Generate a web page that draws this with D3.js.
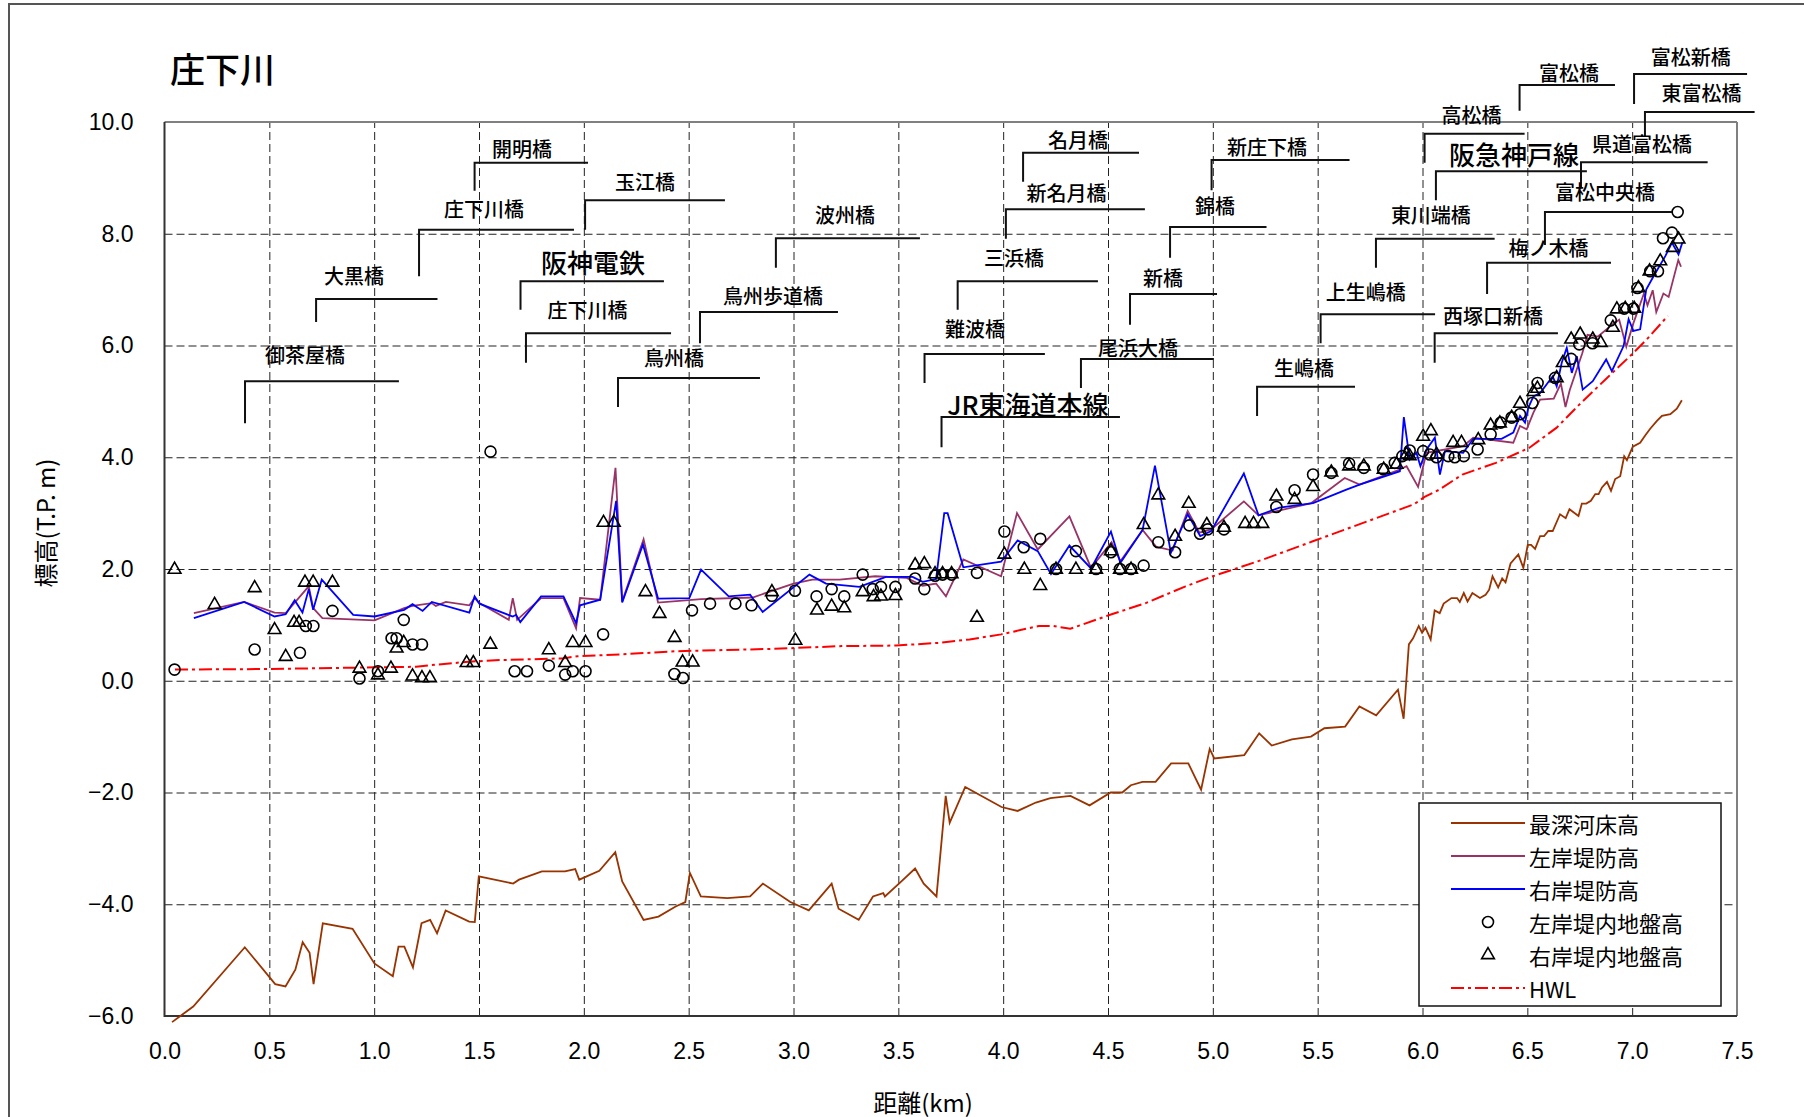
<!DOCTYPE html>
<html>
<head>
<meta charset="utf-8">
<script src="https://cdnjs.cloudflare.com/ajax/libs/d3/7.8.5/d3.min.js"></script>
<style>
  body { margin: 0; background: #fff; }
  svg text { font-family: "Noto Sans CJK JP", "Noto Sans", sans-serif; fill: #000; }
  .tick text { font-family: "Liberation Sans", Arial, sans-serif; font-size: 23px; }
</style>
</head>
<body>
<svg id="chart" width="1804" height="1117"></svg>
<script>
// 軸目盛
const xTicks = [0, 0.5, 1, 1.5, 2, 2.5, 3, 3.5, 4, 4.5, 5, 5.5, 6, 6.5, 7, 7.5];
const yTicks = [-6, -4, -2, 0, 2, 4, 6, 8, 10];

// 最深河床高 [km, T.P.m]
const riverbed = [[0.036,-6.11],[0.137,-5.83],[0.383,-4.77],[0.528,-5.43],[0.577,-5.47],[0.624,-5.17],[0.659,-4.68],[0.692,-4.87],[0.711,-5.43],[0.755,-4.34],[0.897,-4.44],[1.001,-5.06],[1.089,-5.29],[1.116,-4.76],[1.144,-4.76],[1.185,-5.13],[1.226,-4.34],[1.267,-4.28],[1.300,-4.52],[1.341,-4.11],[1.453,-4.31],[1.480,-4.32],[1.499,-3.50],[1.663,-3.63],[1.691,-3.56],[1.800,-3.41],[1.910,-3.41],[1.959,-3.37],[1.978,-3.56],[2.074,-3.40],[2.150,-3.07],[2.183,-3.59],[2.285,-4.28],[2.356,-4.22],[2.438,-4.04],[2.484,-3.96],[2.506,-3.44],[2.558,-3.86],[2.684,-3.89],[2.793,-3.86],[2.854,-3.63],[2.985,-3.96],[3.073,-4.11],[3.182,-3.63],[3.215,-4.08],[3.311,-4.28],[3.379,-3.86],[3.428,-3.80],[3.436,-3.86],[3.512,-3.60],[3.580,-3.36],[3.621,-3.63],[3.682,-3.86],[3.726,-2.06],[3.745,-2.54],[3.819,-1.90],[3.992,-2.26],[4.069,-2.33],[4.156,-2.18],[4.225,-2.10],[4.321,-2.06],[4.412,-2.23],[4.513,-2.00],[4.568,-2.00],[4.609,-1.87],[4.664,-1.81],[4.727,-1.81],[4.801,-1.48],[4.883,-1.48],[4.944,-1.95],[4.985,-1.22],[5.007,-1.39],[5.150,-1.33],[5.221,-0.94],[5.281,-1.16],[5.377,-1.05],[5.468,-1.00],[5.532,-0.85],[5.631,-0.82],[5.699,-0.46],[5.779,-0.62],[5.883,-0.16],[5.910,-0.68],[5.935,0.65],[5.955,0.76],[5.982,0.98],[5.998,0.86],[6.014,0.95],[6.039,0.74],[6.058,1.26],[6.082,1.21],[6.101,1.38],[6.138,1.48],[6.165,1.48],[6.178,1.41],[6.197,1.57],[6.215,1.42],[6.238,1.57],[6.274,1.48],[6.301,1.54],[6.318,1.63],[6.334,1.87],[6.361,1.67],[6.380,1.83],[6.396,1.76],[6.420,2.10],[6.457,2.26],[6.481,2.02],[6.502,2.43],[6.518,2.43],[6.537,2.36],[6.561,2.59],[6.580,2.59],[6.600,2.68],[6.621,2.68],[6.656,2.98],[6.683,2.91],[6.701,3.07],[6.744,2.95],[6.760,3.17],[6.781,3.17],[6.803,3.22],[6.824,3.34],[6.840,3.34],[6.856,3.46],[6.880,3.56],[6.899,3.40],[6.919,3.61],[6.943,3.66],[6.962,4.02],[6.975,3.95],[7.003,4.19],[7.038,4.26],[7.062,4.39],[7.086,4.51],[7.118,4.65],[7.142,4.74],[7.182,4.77],[7.213,4.87],[7.237,5.02]];

// 左岸堤防高
const leftLevee = [[0.14,1.21],[0.38,1.41],[0.525,1.22],[0.578,1.21],[0.688,1.69],[0.709,1.30],[0.753,1.12],[1.002,1.08],[1.143,1.30],[1.183,1.34],[1.275,1.39],[1.294,1.34],[1.342,1.41],[1.454,1.35],[1.479,1.48],[1.502,1.39],[1.642,1.09],[1.661,1.48],[1.682,1.09],[1.796,1.48],[1.903,1.48],[1.963,0.94],[1.982,1.48],[2.078,1.45],[2.151,3.81],[2.183,1.42],[2.285,2.53],[2.354,1.40],[2.559,1.46],[2.805,1.49],[3.0,1.74],[3.09,1.81],[3.22,1.81],[3.39,1.87],[3.54,1.84],[3.616,1.70],[3.68,1.74],[3.727,1.51],[3.810,2.17],[3.990,1.87],[4.066,3.00],[4.165,2.35],[4.316,2.94],[4.419,2.02],[4.517,2.48],[4.559,2.14],[4.665,2.70],[4.729,2.40],[4.808,2.33],[4.880,3.04],[4.936,2.65],[4.992,2.71],[5.148,3.21],[5.218,2.96],[5.470,3.18],[5.629,3.63],[5.70,3.51],[5.892,3.78],[5.924,3.84],[5.979,3.47],[6.019,4.08],[6.194,4.20],[6.242,4.35],[6.433,4.26],[6.465,4.56],[6.497,4.50],[6.529,4.80],[6.561,5.03],[6.626,5.05],[6.660,5.32],[6.682,4.90],[6.702,5.20],[6.762,5.86],[6.787,6.19],[6.837,6.16],[6.913,6.40],[6.938,6.46],[6.972,5.98],[7.006,6.40],[7.056,6.93],[7.073,6.72],[7.098,6.99],[7.115,6.60],[7.149,6.93],[7.174,6.87],[7.220,7.53],[7.233,7.41]];

// 右岸堤防高
const rightLevee = [[0.14,1.12],[0.38,1.41],[0.525,1.15],[0.578,1.19],[0.621,1.44],[0.658,1.22],[0.688,1.64],[0.709,1.27],[0.750,1.81],[0.900,1.18],[1.002,1.15],[1.143,1.27],[1.183,1.37],[1.231,1.25],[1.275,1.41],[1.454,1.22],[1.479,1.51],[1.502,1.38],[1.661,1.15],[1.677,1.18],[1.697,1.05],[1.796,1.51],[1.903,1.51],[1.963,1.03],[1.982,1.35],[2.078,1.45],[2.154,3.22],[2.183,1.40],[2.282,2.44],[2.354,1.47],[2.503,1.48],[2.559,1.99],[2.691,1.51],[2.793,1.54],[2.853,1.23],[3.076,1.90],[3.155,1.74],[3.314,1.68],[3.441,1.86],[3.568,1.86],[3.616,1.77],[3.680,1.82],[3.719,3.00],[3.735,3.00],[3.810,2.03],[3.990,2.13],[4.069,2.51],[4.165,2.32],[4.228,1.91],[4.316,2.42],[4.419,2.01],[4.514,2.67],[4.559,2.11],[4.665,2.70],[4.724,3.85],[4.800,2.29],[4.880,2.98],[4.940,2.59],[4.992,2.68],[5.148,3.71],[5.218,2.96],[5.318,3.10],[5.478,3.18],[5.637,3.42],[5.70,3.51],[5.892,3.75],[5.911,4.72],[5.939,3.96],[5.971,4.08],[5.990,3.84],[6.019,4.14],[6.059,4.35],[6.083,3.69],[6.107,4.11],[6.194,4.08],[6.242,4.33],[6.377,4.33],[6.433,4.44],[6.465,4.74],[6.489,4.62],[6.505,4.89],[6.529,5.09],[6.561,5.15],[6.621,5.45],[6.640,5.27],[6.664,5.69],[6.688,5.96],[6.712,5.51],[6.736,5.81],[6.764,5.21],[6.812,5.36],[6.876,5.75],[6.903,5.54],[6.959,5.99],[6.983,6.47],[7.006,6.26],[7.038,6.29],[7.067,7.00],[7.102,7.24],[7.158,7.60],[7.190,7.84],[7.221,7.63],[7.240,7.85]];

// 左岸堤内地盤高
const leftGround = [[0.048,0.20],[0.430,0.56],[0.646,0.50],[0.674,0.98],[0.710,0.98],[0.801,1.25],[0.930,0.04],[1.018,0.17],[1.083,0.76],[1.107,0.76],[1.141,1.09],[1.183,0.65],[1.228,0.65],[1.555,4.10],[1.670,0.17],[1.729,0.17],[1.833,0.27],[1.911,0.11],[1.947,0.17],[2.008,0.17],[2.092,0.83],[2.432,0.12],[2.473,0.05],[2.516,1.26],[2.602,1.38],[2.723,1.38],[2.800,1.35],[2.897,1.52],[3.007,1.61],[3.110,1.51],[3.182,1.64],[3.242,1.51],[3.330,1.90],[3.378,1.64],[3.417,1.68],[3.486,1.68],[3.580,1.83],[3.624,1.64],[3.675,1.88],[3.711,1.90],[3.754,1.90],[3.875,1.93],[4.006,2.67],[4.098,2.39],[4.177,2.54],[4.252,2.00],[4.347,2.32],[4.443,2.00],[4.514,2.30],[4.557,2.00],[4.610,2.00],[4.670,2.06],[4.740,2.48],[4.820,2.30],[4.888,2.78],[4.939,2.63],[4.976,2.71],[5.053,2.71],[5.303,3.11],[5.390,3.41],[5.478,3.69],[5.565,3.72],[5.650,3.89],[5.720,3.81],[5.812,3.79],[5.868,3.90],[5.904,4.02],[5.939,4.12],[6.003,4.11],[6.035,4.05],[6.067,4.00],[6.123,4.02],[6.154,4.00],[6.197,4.02],[6.263,4.14],[6.325,4.41],[6.373,4.62],[6.425,4.71],[6.465,4.77],[6.524,4.97],[6.549,5.33],[6.632,5.42],[6.709,5.76],[6.748,6.02],[6.811,6.04],[6.898,6.45],[6.962,6.66],[7.006,6.66],[7.025,7.03],[7.086,7.33],[7.123,7.33],[7.147,7.92],[7.190,8.02],[7.217,8.39]];

// 右岸堤内地盤高
const rightGround = [[0.048,1.99],[0.239,1.36],[0.430,1.66],[0.525,0.91],[0.578,0.43],[0.618,1.04],[0.642,1.04],[0.670,1.76],[0.709,1.76],[0.801,1.76],[0.930,0.22],[1.018,0.10],[1.080,0.22],[1.107,0.58],[1.141,0.68],[1.183,0.08],[1.228,0.05],[1.266,0.05],[1.441,0.32],[1.473,0.32],[1.554,0.65],[1.833,0.55],[1.911,0.32],[1.947,0.68],[2.008,0.68],[2.094,2.83],[2.143,2.83],[2.294,1.59],[2.361,1.20],[2.433,0.77],[2.471,0.33],[2.519,0.33],[2.897,1.59],[3.009,0.72],[3.112,1.26],[3.182,1.33],[3.242,1.30],[3.330,1.59],[3.382,1.50],[3.417,1.51],[3.486,1.52],[3.580,2.07],[3.624,2.09],[3.675,1.91],[3.711,1.91],[3.754,1.91],[3.875,1.13],[4.006,2.26],[4.101,1.99],[4.177,1.70],[4.252,1.99],[4.347,1.99],[4.443,1.99],[4.514,2.32],[4.557,1.99],[4.610,1.99],[4.670,2.79],[4.740,3.32],[4.820,2.58],[4.885,3.17],[4.971,2.79],[5.053,2.74],[5.154,2.81],[5.194,2.81],[5.236,2.81],[5.303,3.30],[5.390,3.24],[5.478,3.47],[5.565,3.73],[5.650,3.84],[5.720,3.84],[5.815,3.78],[5.876,3.87],[5.924,4.05],[5.939,4.02],[6.003,4.37],[6.040,4.47],[6.067,4.05],[6.146,4.26],[6.186,4.26],[6.266,4.31],[6.325,4.57],[6.369,4.61],[6.425,4.71],[6.465,4.96],[6.529,5.17],[6.548,5.23],[6.640,5.42],[6.669,5.69],[6.709,6.11],[6.752,6.20],[6.812,6.11],[6.850,6.05],[6.908,6.32],[6.927,6.65],[6.967,6.66],[7.010,6.66],[7.030,7.03],[7.083,7.33],[7.134,7.51],[7.194,7.75],[7.221,7.90]];

// HWL
const hwl = [[0.05,0.20],[0.5,0.21],[1.0,0.24],[1.2,0.25],[1.3,0.29],[1.45,0.34],[1.6,0.37],[1.9,0.40],[1.97,0.44],[2.17,0.47],[2.45,0.53],[2.9,0.57],[3.23,0.62],[3.49,0.63],[3.70,0.68],[3.84,0.74],[3.99,0.83],[4.17,0.98],[4.24,0.98],[4.32,0.93],[4.51,1.18],[4.68,1.39],[4.87,1.69],[5.0,1.87],[5.24,2.17],[5.48,2.50],[5.72,2.83],[5.96,3.16],[6.01,3.29],[6.08,3.42],[6.19,3.69],[6.35,3.90],[6.51,4.17],[6.64,4.53],[6.75,4.95],[6.88,5.42],[6.99,5.81],[7.07,6.11],[7.17,6.53]];

// 橋梁名：[名前, 引出線km, 横線標高, 縦線下端標高, 横線終点km, 文字km, 文字標高, 大きい文字]
const bridges = [
  ["開明橋", 1.479, 9.27, 8.77, 2.020, 1.705, 9.53, 0],
  ["玉江橋", 2.006, 8.60, 8.07, 2.673, 2.292, 8.93, 0],
  ["庄下川橋", 1.214, 8.07, 7.24, 1.953, 1.524, 8.46, 0],
  ["大黒橋", 0.723, 6.83, 6.42, 1.302, 0.904, 7.26, 0],
  ["阪神電鉄", 1.698, 7.15, 6.64, 2.382, 2.044, 7.50, 1],
  ["庄下川橋", 1.724, 6.22, 5.69, 2.416, 2.017, 6.64, 0],
  ["御茶屋橋", 0.384, 5.36, 4.61, 1.118, 0.670, 5.83, 0],
  ["鳥州橋", 2.163, 5.42, 4.90, 2.840, 2.430, 5.79, 0],
  ["鳥州歩道橋", 2.554, 6.60, 6.04, 3.212, 2.902, 6.90, 0],
  ["波州橋", 2.916, 7.92, 7.39, 3.603, 3.246, 8.35, 0],
  ["名月橋", 4.095, 9.45, 8.93, 4.648, 4.357, 9.68, 0],
  ["新名月橋", 4.013, 8.44, 7.91, 4.676, 4.302, 8.73, 0],
  ["三浜橋", 3.783, 7.15, 6.64, 4.452, 4.052, 7.57, 0],
  ["難波橋", 3.625, 5.85, 5.33, 4.199, 3.866, 6.31, 0],
  ["JR東海道本線", 3.706, 4.72, 4.18, 4.557, 4.118, 4.97, 1],
  ["尾浜大橋", 4.371, 5.76, 5.24, 5.005, 4.643, 5.97, 0],
  ["新橋", 4.605, 6.92, 6.37, 5.020, 4.762, 7.21, 0],
  ["錦橋", 4.796, 8.12, 7.57, 5.256, 5.010, 8.51, 0],
  ["新庄下橋", 4.994, 9.32, 8.78, 5.652, 5.258, 9.57, 0],
  ["生嶋橋", 5.211, 5.26, 4.74, 5.678, 5.435, 5.60, 0],
  ["上生嶋橋", 5.514, 6.56, 6.04, 6.060, 5.729, 6.96, 0],
  ["東川端橋", 5.778, 7.91, 7.39, 6.344, 6.040, 8.35, 0],
  ["西塚口新橋", 6.058, 6.22, 5.69, 6.646, 6.336, 6.53, 0],
  ["梅ノ木橋", 6.308, 7.48, 6.92, 6.899, 6.601, 7.76, 0],
  ["富松中央橋", 6.584, 8.39, 7.80, 7.190, 6.870, 8.75, 0],
  ["阪急神戸線", 6.064, 9.12, 8.60, 6.784, 6.436, 9.43, 1],
  ["高松橋", 6.010, 9.79, 9.27, 6.487, 6.234, 10.13, 0],
  ["県道富松橋", 6.756, 9.28, 8.82, 7.360, 7.047, 9.61, 0],
  ["富松橋", 6.463, 10.66, 10.20, 6.918, 6.699, 10.88, 0],
  ["富松新橋", 7.009, 10.86, 10.32, 7.548, 7.280, 11.18, 0],
  ["東富松橋", 7.061, 10.18, 9.73, 7.584, 7.331, 10.52, 0]
];

const legendNames = ["最深河床高", "左岸堤防高", "右岸堤防高", "左岸堤内地盤高", "右岸堤内地盤高", "HWL"];

var svg = d3.select("#chart");
var plot = {left: 164.5, top: 122, right: 1737, bottom: 1016};

var x = d3.scaleLinear().domain([0, 7.5]).range([plot.left, plot.right]);
var y = d3.scaleLinear().domain([-6, 10]).range([plot.bottom, plot.top]);

// 外枠
svg.append("rect")
  .attr("x", 9).attr("y", 4).attr("width", 1830).attr("height", 1140)
  .attr("fill", "none").attr("stroke", "#555").attr("stroke-width", 2);

// タイトル
svg.append("text")
  .attr("x", 170).attr("y", 67)
  .attr("dominant-baseline", "central")
  .attr("font-size", 35)
  .attr("font-weight", 500)
  .text("庄下川");

// グリッド付きの軸
var fmt = d3.format(".1f");
var yAxis = svg.append("g")
  .attr("transform", "translate(" + plot.left + ",0)")
  .call(d3.axisLeft(y).tickValues(yTicks).tickFormat(fmt)
    .tickSize(-(plot.right - plot.left)).tickPadding(31));
var xAxis = svg.append("g")
  .attr("transform", "translate(0," + plot.bottom + ")")
  .call(d3.axisBottom(x).tickValues(xTicks).tickFormat(fmt)
    .tickSize(-(plot.bottom - plot.top)).tickPadding(27));

[yAxis, xAxis].forEach(function(g){
  g.select(".domain").remove();
  g.selectAll(".tick line")
    .attr("stroke", "#222")
    .attr("stroke-width", 1)
    .attr("stroke-dasharray", "8,4");
  g.selectAll(".tick text").attr("fill", "#000");
});
// 両端の目盛線は枠と重なるので消す
yAxis.selectAll(".tick line").filter(function(d){ return d == -6 || d == 10; }).remove();
xAxis.selectAll(".tick line").filter(function(d){ return d == 0 || d == 7.5; }).remove();

// プロット枠
svg.append("line").attr("x1", plot.left).attr("x2", plot.right).attr("y1", plot.top).attr("y2", plot.top)
  .attr("stroke", "#808080").attr("stroke-width", 2);
svg.append("line").attr("x1", plot.right).attr("x2", plot.right).attr("y1", plot.top).attr("y2", plot.bottom)
  .attr("stroke", "#808080").attr("stroke-width", 2);
svg.append("line").attr("x1", plot.left).attr("x2", plot.left).attr("y1", plot.top).attr("y2", plot.bottom + 1)
  .attr("stroke", "#333").attr("stroke-width", 2);
svg.append("line").attr("x1", plot.left).attr("x2", plot.right).attr("y1", plot.bottom).attr("y2", plot.bottom)
  .attr("stroke", "#333").attr("stroke-width", 2);

// 軸タイトル
svg.append("text")
  .attr("transform", "translate(44,523) rotate(-90)")
  .attr("text-anchor", "middle").attr("dominant-baseline", "central")
  .attr("font-size", 24)
  .text("標高(T.P. m)");
svg.append("text")
  .attr("x", 923).attr("y", 1101)
  .attr("text-anchor", "middle").attr("dominant-baseline", "central")
  .attr("font-size", 24)
  .text("距離(km)");

// 線
var line = d3.line().x(function(d){ return x(d[0]); }).y(function(d){ return y(d[1]); });

svg.append("path").datum(hwl).attr("d", line)
  .attr("fill", "none").attr("stroke", "#ff0000").attr("stroke-width", 2)
  .attr("stroke-dasharray", "13,4,3,4");
svg.append("path").datum(riverbed).attr("d", line)
  .attr("fill", "none").attr("stroke", "#993300").attr("stroke-width", 1.8);
svg.append("path").datum(leftLevee).attr("d", line)
  .attr("fill", "none").attr("stroke", "#993366").attr("stroke-width", 1.8);
svg.append("path").datum(rightLevee).attr("d", line)
  .attr("fill", "none").attr("stroke", "#0000ff").attr("stroke-width", 1.8);

// 地盤高マーカー
var tri = d3.symbol().type(d3.symbolTriangle).size(70);
svg.append("g").selectAll("circle")
  .data(leftGround)
  .enter()
  .append("circle")
  .attr("cx", function(d){ return x(d[0]); })
  .attr("cy", function(d){ return y(d[1]); })
  .attr("r", 5.5)
  .attr("fill", "none").attr("stroke", "#000").attr("stroke-width", 1.6);
svg.append("g").selectAll("path")
  .data(rightGround)
  .enter()
  .append("path")
  .attr("d", tri)
  .attr("transform", function(d){ return "translate(" + x(d[0]) + "," + y(d[1]) + ")"; })
  .attr("fill", "none").attr("stroke", "#000").attr("stroke-width", 1.6);

// 橋梁の引出線と名前
var br = svg.append("g");
br.selectAll("path")
  .data(bridges)
  .enter()
  .append("path")
  .attr("d", function(d){
    return "M" + x(d[1]) + "," + y(d[3]) + "V" + y(d[2]) + "H" + x(d[4]);
  })
  .attr("fill", "none").attr("stroke", "#111").attr("stroke-width", 2);
br.selectAll("text")
  .data(bridges)
  .enter()
  .append("text")
  .attr("x", function(d){ return x(d[5]); })
  .attr("y", function(d){ return y(d[6]); })
  .attr("text-anchor", "middle")
  .attr("dominant-baseline", "central")
  .attr("font-size", function(d){ return d[7] ? 26 : 20; })
  .attr("font-weight", 500)
  .text(function(d){ return d[0]; });

// 凡例
var lg = svg.append("g").attr("transform", "translate(1419,803)");
lg.append("rect").attr("width", 302).attr("height", 203)
  .attr("fill", "#fff").attr("stroke", "#111").attr("stroke-width", 1.5);
var styles = [
  {stroke: "#993300"}, {stroke: "#993366"}, {stroke: "#0000ff"},
  {mark: "circle"}, {mark: "triangle"}, {stroke: "#ff0000", dash: "13,4,3,4"}
];
legendNames.forEach(function(name, i){
  var cy = 20 + i * 33;
  var s = styles[i];
  if (s.stroke) {
    lg.append("line").attr("x1", 32).attr("x2", 106).attr("y1", cy).attr("y2", cy)
      .attr("stroke", s.stroke).attr("stroke-width", 2)
      .attr("stroke-dasharray", s.dash || null);
  } else if (s.mark == "circle") {
    lg.append("circle").attr("cx", 69).attr("cy", cy).attr("r", 5.5)
      .attr("fill", "none").attr("stroke", "#000").attr("stroke-width", 1.6);
  } else {
    lg.append("path").attr("d", tri).attr("transform", "translate(69," + cy + ")")
      .attr("fill", "none").attr("stroke", "#000").attr("stroke-width", 1.6);
  }
  lg.append("text").attr("x", 110).attr("y", cy)
    .attr("dominant-baseline", "central")
    .attr("font-size", 22)
    .text(name);
});
</script>
</body>
</html>
